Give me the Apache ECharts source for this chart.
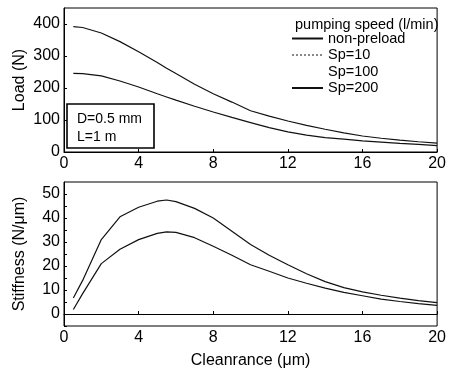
<!DOCTYPE html>
<html>
<head>
<meta charset="utf-8">
<script src="https://cdn.jsdelivr.net/npm/echarts@6/dist/echarts.min.js"></script>
<style>
  html, body { margin: 0; padding: 0; background: #fff; }
  #chart { width: 449px; height: 372px; }
</style>
</head>
<body>
<div id="chart"></div>
<script>
// clearance values (um)
const clearance = [0.5, 1, 2, 3, 4, 5, 5.5, 6, 7, 8, 9, 10, 11, 12, 13, 14, 15, 16, 17, 18, 19, 20]
// load (N)
const loadNonPreload = [246, 245, 238, 222, 203, 182, 172, 162, 143, 125, 108, 92, 76, 63, 53, 45, 40, 35, 31, 27, 24, 20]
const loadSp200 = [392, 389, 372, 345, 313, 280, 262, 245, 212, 182, 156, 129, 112, 97, 83, 71, 60, 50, 43, 37, 32, 28]
// stiffness (N/um)
const stiffNonPreload = [1.9, 8.5, 21, 27, 31, 33.6, 34.2, 34, 31.8, 28.2, 24.5, 20.5, 17.8, 15, 12.8, 10.8, 9, 7.6, 6.2, 5.2, 4.3, 3.6]
const stiffSp200 = [6.7, 14, 31, 40.5, 44.5, 47, 47.5, 46.8, 44, 40, 34.5, 29, 24.5, 20.5, 16.8, 13.5, 11, 9.2, 7.8, 6.6, 5.6, 4.7]
const legendNames = ['non-preload', 'Sp=10', 'Sp=100', 'Sp=200']

const font = 'Liberation Sans, Arial, sans-serif'
const pairs = (xs, ys) => xs.map((x, i) => [x, ys[i]])

const xAxisBase = {
  type: 'value',
  min: 0,
  max: 20,
  interval: 4,
  axisLine: { lineStyle: { color: '#000', width: 1 } },
  axisTick: { inside: true, length: 3, lineStyle: { color: '#000' } },
  axisLabel: { color: '#000', fontSize: 16, fontFamily: font, margin: 4 },
  splitLine: { show: false }
}
const yAxisBase = {
  type: 'value',
  nameLocation: 'middle',
  nameRotate: 90,
  nameMoveOverlap: false,
  nameTextStyle: { color: '#000', fontSize: 16, fontFamily: font },
  axisLine: { show: true, lineStyle: { color: '#000', width: 1 } },
  axisTick: { show: true, inside: true, length: 3, lineStyle: { color: '#000' } },
  axisLabel: { color: '#000', fontSize: 16, fontFamily: font, margin: 4, showMaxLabel: false },
  splitLine: { show: false }
}

const lineStyle = { color: '#111', width: 1.2 }

const option = {
  animation: false,
  backgroundColor: '#fff',
  title: {
    text: 'pumping speed (l/min)',
    left: 290,
    top: 12,
    textStyle: { color: '#000', fontSize: 14.5, fontWeight: 'normal', fontFamily: font }
  },
  legend: {
    data: legendNames,
    orient: 'vertical',
    left: 291,
    top: 31,
    itemWidth: 31,
    itemHeight: 10,
    itemGap: 1.5,
    itemStyle: { opacity: 0 },
    textStyle: { color: '#000', fontSize: 14.5, fontFamily: font },
    padding: 0
  },
  grid: [
    { left: 64, right: 8, top: 8, height: 144, show: true, borderColor: '#000', borderWidth: 1, backgroundColor: 'transparent' },
    { left: 64, right: 8, top: 182, height: 144, show: true, borderColor: '#000', borderWidth: 1, backgroundColor: 'transparent' }
  ],
  xAxis: [
    { ...xAxisBase, gridIndex: 0 },
    {
      ...xAxisBase,
      gridIndex: 1,
      name: 'Cleanrance (\u03bcm)',
      nameLocation: 'middle',
      nameGap: 27,
      nameTextStyle: { color: '#000', fontSize: 16, fontFamily: font }
    }
  ],
  yAxis: [
    { ...yAxisBase, gridIndex: 0, min: 0, max: 450, interval: 100, name: 'Load (N)', nameGap: 36 },
    {
      ...yAxisBase,
      gridIndex: 1,
      min: -5,
      max: 55,
      interval: 5,
      name: 'Stiffness (N/\u03bcm)',
      nameGap: 36,
      axisLabel: {
        ...yAxisBase.axisLabel,
        formatter: (v) => (v % 10 === 0 ? String(v) : '')
      }
    }
  ],
  series: [
    { name: 'non-preload', type: 'line', xAxisIndex: 0, yAxisIndex: 0, symbol: 'none', lineStyle, itemStyle: { color: '#111' }, data: pairs(clearance, loadNonPreload) },
    { name: 'non-preload', type: 'line', xAxisIndex: 1, yAxisIndex: 1, symbol: 'none', lineStyle, itemStyle: { color: '#111' }, data: pairs(clearance, stiffNonPreload) },
    { name: 'Sp=10', type: 'line', xAxisIndex: 0, yAxisIndex: 0, symbol: 'none', lineStyle: { color: '#888', width: 1, type: 'dotted' }, itemStyle: { color: '#888' }, data: [] },
    { name: 'Sp=100', type: 'line', xAxisIndex: 0, yAxisIndex: 0, symbol: 'none', lineStyle: { color: '#fff', width: 1, opacity: 0 }, itemStyle: { color: '#fff' }, data: [] },
    { name: 'Sp=200', type: 'line', xAxisIndex: 0, yAxisIndex: 0, symbol: 'none', lineStyle, itemStyle: { color: '#111' }, data: pairs(clearance, loadSp200) },
    { name: 'Sp=200', type: 'line', xAxisIndex: 1, yAxisIndex: 1, symbol: 'none', lineStyle, itemStyle: { color: '#111' }, data: pairs(clearance, stiffSp200) }
  ],
  graphic: [
    {
      type: 'rect',
      shape: { x: 67, y: 104, width: 87, height: 44 },
      style: { fill: '#fff', stroke: '#000', lineWidth: 1.6 },
      z: 100
    },
    {
      type: 'text',
      left: 77,
      top: 110,
      style: { text: 'D=0.5 mm\nL=1 m', fill: '#000', font: '14px ' + font, lineHeight: 18 },
      z: 101
    }
  ]
}

const chart = echarts.init(document.getElementById('chart'))
chart.setOption(option)
</script>
</body>
</html>
